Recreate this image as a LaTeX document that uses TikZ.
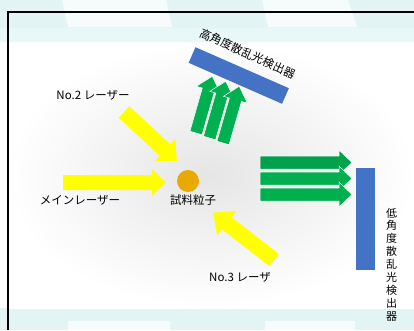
\documentclass[tikz,border=0pt]{standalone}
\usepackage{fontspec}
\setmainfont{Noto Sans CJK JP}
\definecolor{teal0}{RGB}{226,244,244}
\definecolor{teal1}{RGB}{232,247,247}
\definecolor{obblue}{RGB}{68,114,196}
\definecolor{obgreen}{RGB}{0,176,80}
\definecolor{obgreenD}{RGB}{0,160,76}
\definecolor{lyellow}{RGB}{255,255,0}
\definecolor{porange}{RGB}{232,170,0}
\newcommand\FatArrow[8]{%
  \filldraw[#1,shift={(#2,#3)},rotate=#4] (0,-#6) -- ({#5-#8},-#6) -- ({#5-#8},-#7) -- (#5,0) -- ({#5-#8},#7) -- ({#5-#8},#6) -- (0,#6) -- cycle;}
\tikzset{
  lbl/.style={font=\fontsize{11.5}{13}\selectfont, text=black, inner sep=0pt},
  laser/.style={fill=lyellow, draw=none},
  scat/.style={fill=obgreen, draw=white, line width=0.5pt},
  scatD/.style={fill=obgreenD, draw=white, line width=0.5pt},
  detector/.style={fill=obblue, draw=none},
}
\begin{document}
\begin{tikzpicture}[x=1pt,y=-1pt]
\useasboundingbox (0,0) rectangle (414,330);
% background
\fill[white] (0,0) rectangle (414,330);
\fill[teal0] (0,0) rectangle (414,28);
\fill[teal1] (0,28) rectangle (414,42);
\fill[white!70!teal0] (62,0) -- (166,0) -- (172,27) -- (68,27) -- cycle;
\fill[white!70!teal0] (262,0) -- (348,0) -- (357,27) -- (268,27) -- cycle;
\fill[teal0] (0,308) rectangle (414,330);
\fill[white!70!teal0] (68,321) rectangle (170,330);
\fill[white!70!teal0] (265,321) rectangle (355,330);
\shade[inner color=black!10, outer color=white] (8,42) rectangle (414,308);
% frame
\draw[black, line width=1.3pt] (414,12) -- (8,12) -- (8,330);
% detectors
\fill[detector, shift={(238.75,75.5)}, rotate=-23.7] (-51,-8.5) rectangle (51,8.5);
\fill[detector] (356,168) rectangle (375,270);
% lasers
\FatArrow{laser}{63}{182.5}{0}{103}{7.5}{13.5}{14}
\FatArrow{laser}{124}{112}{-42.8}{72}{7.8}{15}{16}
\FatArrow{laser}{274}{260}{142.1}{77}{7.7}{15.5}{17}
% scattered light upward
\FatArrow{scat}{196}{133}{74}{59}{6.3}{12.5}{14}
\FatArrow{scat}{209.5}{138}{74}{59}{6.3}{12.5}{14}
\FatArrow{scat}{223}{143}{74}{59}{6.3}{12.5}{14}
% scattered light forward
\FatArrow{scatD}{260}{162.5}{0}{92}{6.5}{12.5}{13}
\FatArrow{scat}{260}{178.5}{0}{92}{6.5}{12.5}{13}
\FatArrow{scat}{260}{194.5}{0}{92}{6.5}{12.5}{13}
% particle
\node[circle, fill=porange, minimum size=22pt, inner sep=0pt] (particle) at (188,181) {};
% labels
\node[lbl] (no2) at (93,95) {No.2 レーザー};
\node[lbl] (main) at (80,200) {メインレーザー};
\node[lbl] (sample) at (193,200) {試料粒子};
\node[lbl] (no3) at (240,277) {No.3 レーザ};
\node[lbl, rotate=-24.4] (high) at (247.5,53.5) {高角度散乱光検出器};
\node[lbl, align=center, font=\fontsize{11}{12.9}\selectfont] (low) at (391.7,264.5) {低\\角\\度\\散\\乱\\光\\検\\出\\器};
\end{tikzpicture}
\end{document}
